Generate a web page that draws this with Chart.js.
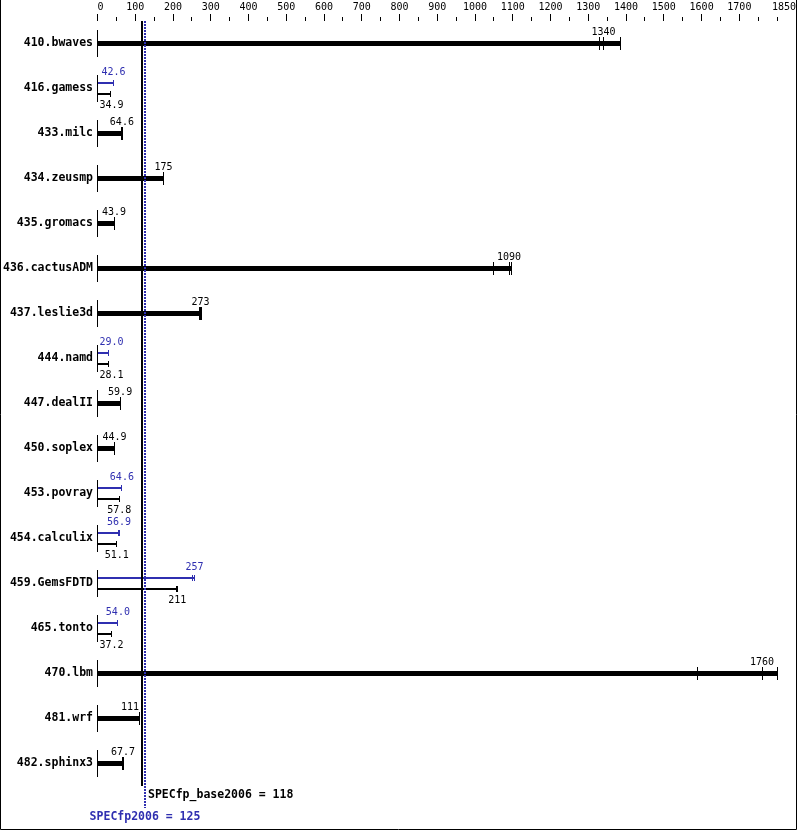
<!doctype html>
<html lang="en">
<head>
<meta charset="UTF-8"/>
<title>SPECfp2006</title>
<script src="https://cdn.jsdelivr.net/npm/chart.js@4.4.0/dist/chart.umd.min.js"></script>
<style>
 * { margin: 0; padding: 0; }
 body { background: #fff; }
 #wrap { width: 799px; height: 831px; position: relative; }
</style>
</head>
<body>
<div id="wrap"><canvas id="chart"></canvas></div>
<script>
// benchmark names, top to bottom
const benchmarks = ['410.bwaves', '416.gamess', '433.milc', '434.zeusmp', '435.gromacs',
    '436.cactusADM', '437.leslie3d', '444.namd', '447.dealII', '450.soplex', '453.povray',
    '454.calculix', '459.GemsFDTD', '465.tonto', '470.lbm', '481.wrf', '482.sphinx3'];

// base ratio (median) and peak ratio; null peak = peak same as base
const baseScores = [1340, 34.9, 64.6, 175, 43.9, 1090, 273, 28.1, 59.9, 44.9, 57.8, 51.1, 211, 37.2, 1760, 111, 67.7];
const peakScores = [null, 42.6, null, null, null, null, null, 29.0, null, null, 64.6, 56.9, 257, 54.0, null, null, null];

// the individual runs
const baseRuns = [[1329, 1340, 1384], [34.8, 34.9, 35.0], [64.4, 64.6, 65.3], [174, 175, 176], [43.8, 43.9, 44.0],
    [1050, 1090, 1097], [270, 273, 276], [28.0, 28.1, 28.2], [59.7, 59.9, 60.1], [44.8, 44.9, 45.3],
    [57.6, 57.8, 57.9], [51.0, 51.1, 51.3], [210, 211, 212], [37.1, 37.2, 37.3], [1588, 1760, 1802],
    [110, 111, 112], [67.5, 67.7, 68.0]];
const peakRuns = [null, [42.5, 42.6, 42.7], null, null, null, null, null, [29.0, 29.0, 29.1], null, null,
    [64.4, 64.6, 64.7], [56.8, 56.9, 57.0], [252, 257, 258], [53.9, 54.0, 54.1], null, null, null];

// top axis
const xLabels = [0, 100, 200, 300, 400, 500, 600, 700, 800, 900, 1000, 1100, 1200, 1300, 1400, 1500, 1600, 1700, 1850];
const xMax = 1850;
const xMinorStep = 50;

const specBase = 118;
const specPeak = 125;

const BLUE = '#2f2fb0';
const MONO = '"DejaVu Sans Mono", monospace';

function fmt(v) {
    return v >= 100 ? String(Math.round(v)) : v.toFixed(1);
}

const thick = baseScores.map((v, i) => peakScores[i] === null ? v : null);
const thinBase = baseScores.map((v, i) => peakScores[i] === null ? null : v);

const specMarks = {
    id: 'specMarks',
    afterDatasetsDraw(chart) {
        const {ctx, chartArea, scales: {x, y}} = chart;
        const x0 = x.getPixelForValue(0);
        const xb = Math.round(x.getPixelForValue(specBase));
        const xp = Math.round(x.getPixelForValue(specPeak));
        ctx.save();

        // stem at zero for every row
        ctx.strokeStyle = '#000';
        ctx.lineWidth = 1;
        benchmarks.forEach((b, i) => {
            const yc = y.getPixelForValue(i);
            const px = Math.floor(x0) + 0.5;
            ctx.beginPath();
            ctx.moveTo(px, yc - 13.5);
            ctx.lineTo(px, yc + 13.5);
            ctx.stroke();
        });

        chart.data.datasets.forEach((ds, di) => {
            const meta = chart.getDatasetMeta(di);
            meta.data.forEach((bar, i) => {
                const v = ds.data[i];
                if (v === null) return;
                const runs = ds.runs[i];
                const {y: by, height: bh} = bar.getProps(['y', 'height'], true);
                const xs = x.getPixelForValue(v);
                const xr = x.getPixelForValue(Math.max(...runs));
                ctx.fillStyle = ds.backgroundColor;
                if (xr > xs) ctx.fillRect(xs, by - bh / 2, xr - xs, bh);
                ctx.strokeStyle = ds.backgroundColor;
                ctx.lineWidth = 1;
                runs.forEach(r => {
                    const rx = Math.floor(x.getPixelForValue(r)) + 0.5;
                    ctx.beginPath();
                    ctx.moveTo(rx, by - ds.capHalf);
                    ctx.lineTo(rx, by + ds.capHalf);
                    ctx.stroke();
                });
                ctx.font = '10px ' + MONO;
                ctx.textAlign = 'center';
                ctx.textBaseline = 'middle';
                const txt = fmt(v);
                const w = ctx.measureText(txt).width;
                let lx = Math.max(xs, x0 + 2 + w / 2);
                // keep the number clear of the overall-score lines
                if (lx + w / 2 > xb - 2 && lx - w / 2 < xp + 2) lx = xb - 3 - w / 2;
                ctx.fillText(txt, lx, by + ds.labelSide * 11);
            });
        });

        // overall scores
        ctx.strokeStyle = '#000';
        ctx.lineWidth = 2;
        ctx.beginPath();
        ctx.moveTo(xb, chartArea.top);
        ctx.lineTo(xb, chartArea.bottom);
        ctx.stroke();

        ctx.strokeStyle = BLUE;
        ctx.setLineDash([2, 1]);
        ctx.beginPath();
        ctx.moveTo(xp, chartArea.top);
        ctx.lineTo(xp, chartArea.bottom + 22);
        ctx.stroke();
        ctx.setLineDash([]);

        ctx.font = 'bold 11.5px ' + MONO;
        ctx.textBaseline = 'middle';
        ctx.fillStyle = '#000';
        ctx.textAlign = 'left';
        ctx.fillText('SPECfp_base2006 = ' + specBase, xp + 3, chartArea.bottom + 9.5);
        ctx.fillStyle = BLUE;
        ctx.textAlign = 'center';
        ctx.fillText('SPECfp2006 = ' + specPeak, xp, chartArea.bottom + 31);
        ctx.restore();
    },
    afterDraw(chart) {
        const {ctx, width, height} = chart;
        ctx.save();
        ctx.strokeStyle = '#000';
        ctx.lineWidth = 1;
        ctx.beginPath();
        ctx.moveTo(0.5, 0);
        ctx.lineTo(0.5, height - 1.5);
        ctx.lineTo(width - 2.5, height - 1.5);
        ctx.lineTo(width - 2.5, 0);
        ctx.stroke();
        ctx.restore();
    }
};

const ctx = document.getElementById('chart').getContext('2d');
new Chart(ctx, {
    type: 'bar',
    data: {
        labels: benchmarks,
        datasets: [{
            label: 'peak',
            data: peakScores,
            runs: peakRuns,
            backgroundColor: BLUE,
            barPercentage: 2 / 11,
            categoryPercentage: 22 / 45,
            capHalf: 3,
            labelSide: -1,
            skipNull: true
        }, {
            label: 'base',
            data: thinBase,
            runs: baseRuns,
            backgroundColor: '#000',
            barPercentage: 2 / 11,
            categoryPercentage: 22 / 45,
            capHalf: 3,
            labelSide: 1,
            skipNull: true
        }, {
            label: 'base = peak',
            data: thick,
            runs: baseRuns,
            backgroundColor: '#000',
            barPercentage: 5 / 22,
            categoryPercentage: 22 / 45,
            capHalf: 6.5,
            labelSide: -1,
            skipNull: true
        }]
    },
    options: {
        indexAxis: 'y',
        responsive: true,
        maintainAspectRatio: false,
        animation: false,
        layout: { padding: { top: 0, left: 0, right: 3, bottom: 45 } },
        plugins: {
            legend: { display: false },
            tooltip: { enabled: false }
        },
        scales: {
            x: {
                position: 'top',
                min: 0,
                max: xMax,
                afterBuildTicks: (scale) => {
                    const t = [];
                    for (let v = 0; v <= xMax; v += xMinorStep) t.push({ value: v });
                    scale.ticks = t;
                },
                afterFit: (scale) => { scale.height = 21; },
                border: { display: false },
                grid: {
                    drawOnChartArea: false,
                    tickLength: 7,
                    tickColor: '#000',
                    tickWidth: 1,
                    tickBorderDash: (c) => xLabels.includes(c.tick && c.tick.value) ? [] : [0, 3, 4]
                },
                ticks: {
                    autoSkip: false,
                    maxRotation: 0,
                    minRotation: 0,
                    align: 'inner',
                    padding: 1,
                    color: '#000',
                    font: { family: MONO, size: 10 },
                    callback: (v) => xLabels.includes(v) ? String(v) : ''
                }
            },
            y: {
                afterFit: (scale) => { scale.width = 97.5; },
                border: { display: false },
                grid: { display: false, drawTicks: false },
                ticks: {
                    padding: 4.5,
                    color: '#000',
                    font: { family: MONO, size: 11.5, weight: 'bold' }
                }
            }
        }
    },
    plugins: [specMarks]
});
</script>
</body>
</html>
